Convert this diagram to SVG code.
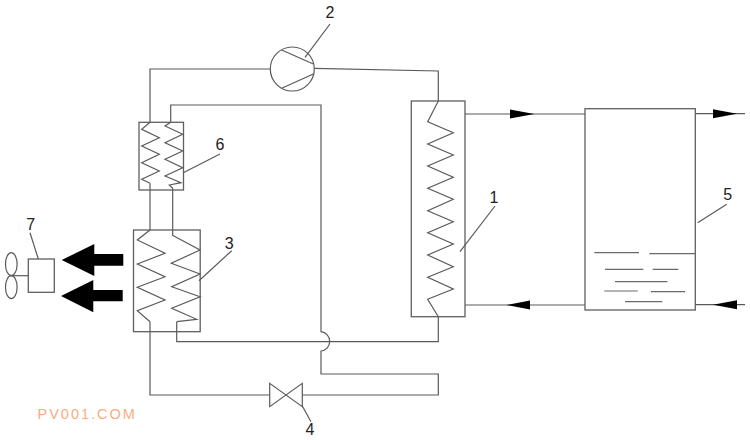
<svg xmlns="http://www.w3.org/2000/svg" width="750" height="440" viewBox="0 0 750 440">
<style>
.l{fill:none;stroke:#5a5a5a;stroke-width:1.2;stroke-linejoin:miter}
.b{fill:none;stroke:#5f5f5f;stroke-width:1.3}
.w{stroke:#6a6a6a;stroke-width:1.2}
.k{fill:#000;stroke:none}
.t{font-family:"Liberation Sans",Arial,sans-serif;font-size:16px;fill:#222;text-anchor:middle}
.wm{font-family:"Liberation Sans",Arial,sans-serif;font-size:14.5px;letter-spacing:2px;fill:#f6ae82}
</style>
<defs>
<marker id="a" markerUnits="userSpaceOnUse" markerWidth="24" markerHeight="10" refX="24" refY="5" orient="auto"><path d="M0 0.5L24 5L0 9.5Z" fill="#000"/></marker>
</defs>
<rect width="750" height="440" fill="#fff"/>
<g id="connectors">
<path class="l" d="M150 122.300V69H270.300"/>
<path class="l" d="M314.300 68.300L438.300 71V101"/>
<path class="l" d="M170.700 122.300V105H321V331.700A9.700 9.700 0 0 1 321 351V374H438.300V395H302.300"/>
<path class="l" d="M269.700 395H150V321.700"/>
<path class="l" d="M150 183.300V230"/>
<path class="l" d="M172.700 188.300V235"/>
<path class="l" d="M176.700 321.700V341.700H438.300V316.700"/>
<path class="l" d="M465 114H585"/>
<path class="l" d="M465 305H585"/>
<path class="l" d="M695.300 113.700H745"/>
<path class="l" d="M695.300 304.700H745"/>
<path class="k" d="M510 109.500L534.300 114L510 118.500Z"/>
<path class="k" d="M530 300.500L506.700 305L530 309.500Z"/>
<path class="k" d="M713 109.200L737 113.700L713 118.200Z"/>
<path class="k" d="M737 300.200L713 304.700L737 309.200Z"/>
</g>
<g id="node-1">
<rect class="b" x="411.300" y="101" width="53.700" height="215.700"/>
<polyline class="l" points="438.300,101 427.700,121.700 453.300,132.700 427.700,144 453.300,155 427.700,166 453.300,177.300 427.700,188.300 453.300,199.300 427.700,210.700 453.300,221.700 427.700,232.700 453.300,244 427.700,255 453.300,266.700 427.700,277.300 453.300,289 427.700,299.300 438.300,316.700"/>
<line class="l" x1="495" y1="206" x2="460" y2="251.700"/>
<text class="t" x="494" y="202.500">1</text>
</g>
<g id="node-2">
<circle class="l" cx="292.300" cy="69" r="22"/>
<path class="l" d="M281.700 50L313.300 64M281.700 88.300L313.300 74"/>
<line class="l" x1="330" y1="24" x2="305" y2="57.300"/>
<text class="t" x="330" y="17.500">2</text>
</g>
<g id="node-3">
<rect class="b" x="133.500" y="230" width="66.700" height="101.700"/>
<polyline class="l" points="150,230 137.300,240 165,253.300 137.300,264 165,276.700 137.300,287.300 165,300 137.300,310.700 150,321.700"/>
<polyline class="l" points="172,235 200,250 171.300,263.300 200,274 171.700,286.700 200,296.700 171.700,308.300 196.700,319.300 176.700,321.700"/>
<line class="l" x1="231.700" y1="250.700" x2="199" y2="280.700"/>
<text class="t" x="229.300" y="248.500">3</text>
</g>
<g id="node-4">
<path class="l" d="M269.700 383.300V406.700L302.300 383.300V406.700Z"/>
<line class="l" x1="302.300" y1="406" x2="311" y2="421.700"/>
<text class="t" x="310" y="435">4</text>
</g>
<g id="node-5">
<rect class="b" x="585" y="108.700" width="110.300" height="201.300"/>
<path class="w" d="M594.300 252.700H639M649.300 253.700H695.300M605 269.300H643.300M652.700 269.300H678.300M615 281.700H667.300M604.300 291H637.700M651 291.700H685M625 301.700H662.300"/>
<line class="l" x1="726.700" y1="204.300" x2="697.700" y2="222.700"/>
<text class="t" x="727.700" y="199.800">5</text>
</g>
<g id="node-6">
<rect class="b" x="139" y="122.300" width="44.500" height="67.700"/>
<polyline class="l" points="150,122.300 141.700,129.300 159.300,137.700 141.700,146 159.300,154.300 141.700,162.700 159.300,171 141.700,179.300 150,183.300"/>
<polyline class="l" points="170.700,122.300 165,126 182.700,134.300 165,142.700 182.700,151 165,159.300 182.700,167.700 165,176 181,182.700 169.300,185 172.700,188.300"/>
<line class="l" x1="220" y1="154" x2="183.300" y2="172.700"/>
<text class="t" x="220" y="150">6</text>
</g>
<g id="node-7">
<rect class="b" x="28.300" y="259" width="26" height="33.300"/>
<ellipse class="l" cx="11.300" cy="264.200" rx="5.800" ry="11.500"/>
<ellipse class="l" cx="11.300" cy="287.200" rx="5.800" ry="11.500"/>
<line class="l" x1="11.300" y1="275.700" x2="28.300" y2="275.700"/>
<line class="l" x1="30" y1="232.700" x2="38.300" y2="259"/>
<text class="t" x="30.700" y="229.800">7</text>
</g>
<g id="airflow">
<path class="k" d="M61.700 260L94.300 244V254H123.300V265.700H94.300V276Z"/>
<path class="k" d="M61 296L93.300 280V290H122.700V301.300H93.300V312.300Z"/>
</g>
<text class="wm" x="37.500" y="419">PV001.COM</text>
</svg>
